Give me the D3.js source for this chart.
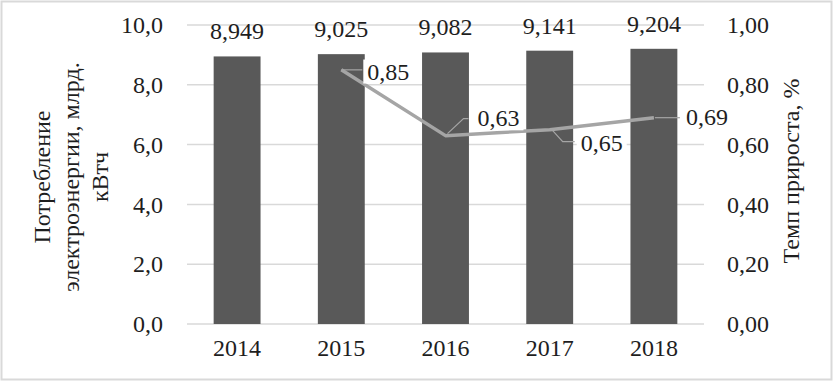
<!DOCTYPE html>
<html><head><meta charset="utf-8">
<script src="https://cdn.jsdelivr.net/npm/d3@7"></script>
<style>
html,body{margin:0;padding:0;background:#fff;}
text{font-family:"Liberation Serif","Times New Roman",serif;fill:#1e1e1e;}
</style></head>
<body><svg id="c" width="834" height="382"></svg>
<script>
const years = ["2014","2015","2016","2017","2018"];
const consumption = [8.949, 9.025, 9.082, 9.141, 9.204];
const consumptionLabels = ["8,949","9,025","9,082","9,141","9,204"];
const growthYears = ["2015","2016","2017","2018"];
const growth = [0.85, 0.63, 0.65, 0.69];
const growthLabels = ["0,85","0,63","0,65","0,69"];
const leftTicks = [0,2,4,6,8,10];
const rightTicks = [0,0.2,0.4,0.6,0.8,1.0];
const leftTitle = ["Потребление","электроэнергии, млрд.","кВтч"];
const rightTitle = "Темп прироста, %";

const svg = d3.select("#c");
const fs = 24;
const fmt1 = d => d.toFixed(1).replace(".", ",");
const fmt2 = d => d.toFixed(2).replace(".", ",");

// frame
svg.append("rect").attr("x",1.5).attr("y",1.5).attr("width",830).attr("height",378)
  .attr("fill","#fff").attr("stroke","#d9d9d9").attr("stroke-width",2);

const x = d3.scaleBand().domain(years).range([185,706]).paddingInner(0.55).paddingOuter(0.275);
const y = d3.scaleLinear().domain([0,10]).range([324,25]);
const y2 = d3.scaleLinear().domain([0,1]).range([324,25]);

// gridlines
svg.append("g").selectAll("line").data(leftTicks).join("line")
  .attr("x1",187).attr("x2",704)
  .attr("y1",d=>y(d)).attr("y2",d=>y(d))
  .attr("stroke","#d9d9d9").attr("stroke-width",1.5);

// left axis labels
const gl = svg.append("g").attr("transform","translate(163,0)")
  .call(d3.axisLeft(y).tickValues(leftTicks).tickFormat(fmt1).tickSize(0).tickPadding(0));
gl.select(".domain").remove();
gl.selectAll("text").attr("font-size",fs).attr("font-family",null).attr("dy","0.32em");

// right axis labels
const gr = svg.append("g").attr("transform","translate(727,0)")
  .call(d3.axisRight(y2).tickValues(rightTicks).tickFormat(fmt2).tickSize(0).tickPadding(0));
gr.select(".domain").remove();
gr.selectAll("text").attr("font-size",fs).attr("font-family",null).attr("dy","0.32em");

// x axis labels
const gx = svg.append("g").attr("transform","translate(0,339)")
  .call(d3.axisBottom(x).tickSize(0).tickPadding(0));
gx.select(".domain").remove();
gx.selectAll("text").attr("font-size",fs).attr("font-family",null).attr("dy","0.71em");

// bars
svg.append("g").selectAll("rect").data(years).join("rect")
  .attr("x",d=>x(d)).attr("width",x.bandwidth())
  .attr("y",(d,i)=>y(consumption[i])).attr("height",(d,i)=>y(0)-y(consumption[i]))
  .attr("fill","#595959");

// bar labels
svg.append("g").selectAll("text").data(years).join("text")
  .attr("x",d=>x(d)+x.bandwidth()/2).attr("y",(d,i)=>y(consumption[i])-17)
  .attr("text-anchor","middle").attr("font-size",fs).text((d,i)=>consumptionLabels[i]);

// line
const cx = d => x(d)+x.bandwidth()/2;
const pts = growthYears.map((d,i)=>[cx(d), y2(growth[i])]);
svg.append("path").attr("d",d3.line()(pts)).attr("fill","none")
  .attr("stroke","#a5a5a5").attr("stroke-width",3.5).attr("stroke-linejoin","round");

// line labels with leader lines (offsets in px relative to point)
const offs = [
  {tx:26, ty:2, leader:[[0,0],[21,0]]},
  {tx:32, ty:-17, leader:[[2,-2],[18,-17],[23,-17]]},
  {tx:31, ty:14, leader:[[3,1],[13,12],[25,12]]},
  {tx:32, ty:0, leader:[[1,0],[26,0]]}
];
const lg = svg.append("g");
pts.forEach((p,i)=>{
  const o = offs[i];
  const t = lg.append("text").attr("x",p[0]+o.tx).attr("y",p[1]+o.ty).attr("dy","0.32em")
    .attr("font-size",fs).text(growthLabels[i]);
  const bb = t.node().getBBox();
  lg.insert("rect","text").attr("x",bb.x-4).attr("y",bb.y+1).attr("width",bb.width+8).attr("height",bb.height-2)
    .attr("fill","#fff");
  lg.append("path").attr("d",d3.line()(o.leader.map(q=>[p[0]+q[0],p[1]+q[1]])))
    .attr("fill","none").attr("stroke","#a5a5a5").attr("stroke-width",1.2);
});

// axis titles
const lt = svg.append("text").attr("transform","translate(0,177) rotate(-90)")
  .attr("text-anchor","middle").attr("font-size",fs);
leftTitle.forEach((s,i)=>{
  lt.append("tspan").attr("x",0).attr("y",[50,79,108][i]).text(s);
});
svg.append("text").attr("transform","translate(799,171) rotate(-90)")
  .attr("text-anchor","middle").attr("font-size",fs).text(rightTitle);
</script>
</body></html>
